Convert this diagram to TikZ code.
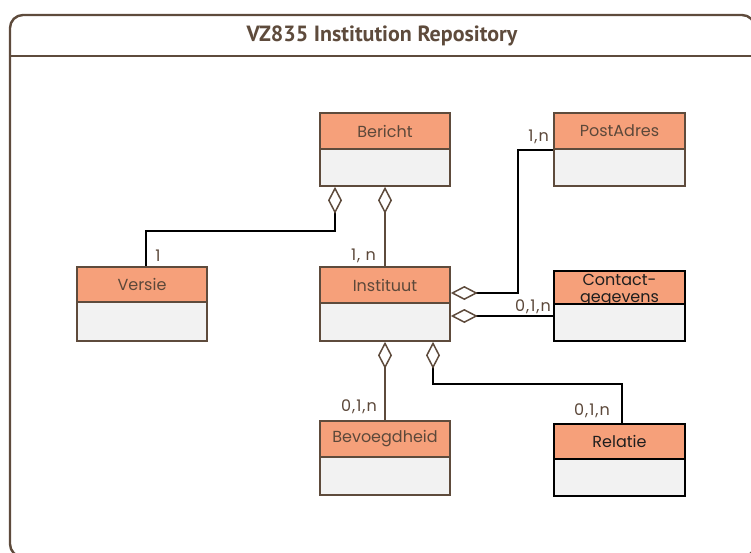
\documentclass[tikz,border=0pt]{standalone}
\usepackage{fontspec}
\setmainfont{Poppins}
\newfontfamily\titlefont{PT Sans}
\newfontfamily\multfont[LetterSpace=6]{Poppins}
\usetikzlibrary{arrows.meta,calc}
\definecolor{brd}{RGB}{94,75,60}
\definecolor{salm}{RGB}{246,160,122}
\definecolor{bodyg}{RGB}{242,242,242}
\definecolor{txt}{RGB}{92,72,58}
\definecolor{dark}{RGB}{30,30,30}
\begin{document}
\begin{tikzpicture}[x=1pt,y=-1pt,
  hdr/.style={draw=brd, line width=1.6pt, fill=salm, minimum width=130pt, inner sep=0pt,
     text=txt, font=\fontsize{16}{16}\selectfont},
  bdy/.style={draw=brd, line width=1.6pt, fill=bodyg, minimum width=130pt, inner sep=0pt},
  hdrk/.style={hdr, draw=black, line width=2pt, text=dark},
  bdyk/.style={bdy, draw=black, line width=2pt},
  mult/.style={text=txt, font=\multfont\fontsize{16}{16}\selectfont, inner sep=0pt},
  agg/.style={line width=1.7pt, draw=black,
     {Diamond[open, length=27pt, width=14pt, color=brd, line width=1.5pt]}-},
  aggb/.style={agg, draw=brd},
]
\useasboundingbox (0,0) rectangle (751,553);
\begin{scope}
\clip (0,0) rectangle (751,553);
\draw[brd, line width=2.4pt, rounded corners=13pt] (10,15) rectangle (755,557);
\draw[brd, line width=2.4pt] (10,56) -- (751,56);
\end{scope}
\node[font=\titlefont\bfseries\fontsize{22}{22}\selectfont, text=brd] (title) at (382,36) {VZ835 Institution Repository};

% Bericht
\node[hdr, minimum height=36pt] (bericht) at (385,131) {Bericht};
\node[bdy, minimum height=37pt] (bericht-b) at (385,167.5) {};
% Versie
\node[hdr, minimum height=35pt] (versie) at (142,284.5) {Versie};
\node[bdy, minimum height=39pt] (versie-b) at (142,321.5) {};
% Instituut
\node[hdr, minimum height=36pt] (instituut) at (385,285) {Instituut};
\node[bdy, minimum height=38pt] (instituut-b) at (385,322) {};
% PostAdres
\node[hdr, minimum height=36pt, minimum width=131pt] (postadres) at (619.5,131) {PostAdres};
\node[bdy, minimum height=37pt, minimum width=131pt] (postadres-b) at (619.5,167.5) {};
% Contact
\node[hdrk, minimum height=33pt, minimum width=131pt] (contact) at (619.5,287.5) {};
\node[align=center, text=dark, inner sep=0pt, font=\fontsize{16}{16.5}\selectfont] (contact-t) at (619.5,290.5) {Contact-\\gegevens};
\node[bdyk, minimum height=37pt, minimum width=131pt] (contact-b) at (619.5,322.5) {};
% Bevoegdheid
\node[hdr, minimum height=36pt] (bevoeg) at (385,439) {Bevoegdheid};
\node[bdy, minimum height=38pt] (bevoeg-b) at (385,476) {};
% Relatie
\node[hdrk, minimum height=35pt, minimum width=131pt] (relatie) at (619.5,441.5) {Relatie};
\node[bdyk, minimum height=37pt, minimum width=131pt] (relatie-b) at (619.5,477.5) {};

% connectors
\draw[agg] ([xshift=-50pt]bericht-b.south) -- ++(0,44) -| ([xshift=4pt]versie.north);
\draw[aggb] (bericht-b.south) -- (instituut.north);
\draw[agg] ([yshift=-8pt]instituut.east) -- ++(67,0) |- (postadres.south west);
\draw[agg] ([yshift=6pt]instituut-b.east) -- ([yshift=6pt]instituut-b.east -| contact-b.west);
\draw[aggb] (instituut-b.south) -- (bevoeg.north);
\draw[agg] ([xshift=48pt]instituut-b.south) -- ++(0,42) -| ([xshift=2.5pt]relatie.north);

% multiplicities
\node[mult] (m1) at (158,256) {1};
\node[mult, anchor=east] (m2) at (376,256) {1, n};
\node[mult, anchor=east] (m3) at (549,137) {1,n};
\node[mult, anchor=east] (m4) at (551,307) {0,1,n};
\node[mult, anchor=east] (m5) at (377,407) {0,1,n};
\node[mult, anchor=east] (m6) at (610,411) {0,1,n};
\end{tikzpicture}
\end{document}
